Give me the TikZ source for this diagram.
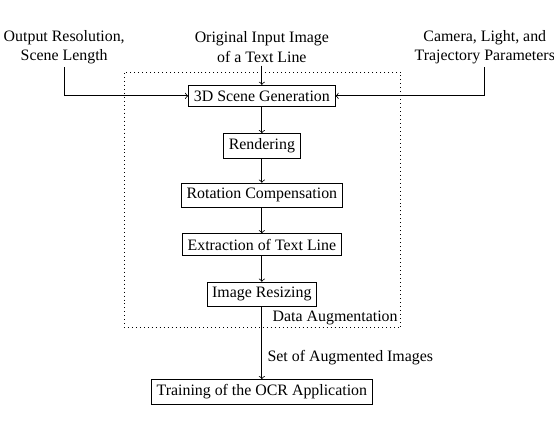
\documentclass[tikz,border=0pt]{standalone}
\usepackage{fontspec}
\setmainfont{Liberation Serif}

\begin{document}
\begin{tikzpicture}[
  font=\normalsize,
  passo/.style={draw=black, line width=0.5pt, inner sep=3.3pt},
  ingresso/.style={align=center, inner sep=2pt},
  freccia/.style={draw=black, line width=0.5pt, ->},
  cornice/.style={draw=black, line width=0.5pt, dotted,
                  minimum width=6.12cm, minimum height=5.66cm}
]
\useasboundingbox (0,0) rectangle (12.25,-9.73);

% ---- dati in ingresso ------------------------------------------------
\node[ingresso] (inSx) at (1.42,-1.04) {Output Resolution,\\ Scene Length};
\node[ingresso] (inCe) at (5.79,-1.04) {Original Input Image\\ of a Text Line};
\node[ingresso] (inDx) at (10.72,-1.04) {Camera, Light, and\\ Trajectory Parameters};

% ---- cornice: data augmentation --------------------------------------
\node[cornice] (aug) at (5.80,-4.42) {};
\node[anchor=south east, inner sep=2pt] (augTesto) at (aug.south east) {Data Augmentation};

% ---- catena di elaborazione ------------------------------------------
\foreach \n/\y/\testo in {1/-2.12/3D Scene Generation, 2/-3.23/Rendering,
    3/-4.32/Rotation Compensation, 4/-5.41/Extraction of Text Line,
    5/-6.51/Image Resizing} {
  \node[passo] (p\n) at (5.79,\y) {\testo};
}
\foreach \a/\b in {1/2, 2/3, 3/4, 4/5} {
  \draw[freccia] (p\a) -- (p\b);
}

\node[passo] (ocr) at (5.79,-8.67) {Training of the OCR Application};

% ---- collegamenti ----------------------------------------------------
\draw[freccia] (inSx.south) |- (p1.west);
\draw[freccia] (inCe.south) -- (p1.north);
\draw[freccia] (inDx.south) |- (p1.east);
\draw[freccia] (p5.south) -- node[pos=0.7, right] (setTesto) {Set of Augmented Images} (ocr.north);

\end{tikzpicture}
\end{document}
